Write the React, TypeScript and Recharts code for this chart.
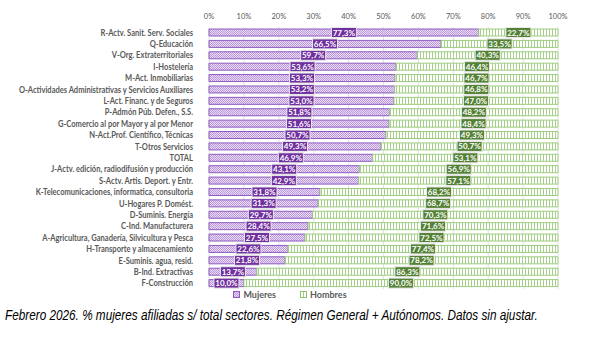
import { BarChart, Bar, XAxis, YAxis, CartesianGrid, Legend, LabelList } from "recharts";

// Afiliación por sector, febrero 2026 (% sobre total de cada sector)
const sectores = [
  "R-Actv. Sanit. Serv. Sociales",
  "Q-Educación",
  "V-Org. Extraterritoriales",
  "I-Hostelería",
  "M-Act. Inmobiliarias",
  "O-Actividades Administrativas y Servicios Auxiliares",
  "L-Act. Financ. y de Seguros",
  "P-Admón Púb. Defen., S.S.",
  "G-Comercio al por Mayor y al por Menor",
  "N-Act.Prof. Científico, Técnicas",
  "T-Otros Servicios",
  "TOTAL",
  "J-Actv. edición, radiodifusión y producción",
  "S-Actv. Artis. Deport. y Entr.",
  "K-Telecomunicaciones, informatica, consultoria",
  "U-Hogares P. Domést.",
  "D-Suminis. Energía",
  "C-Ind. Manufacturera",
  "A-Agricultura, Ganadería, Silvicultura y Pesca",
  "H-Transporte y almacenamiento",
  "E-Suminis. agua, resid.",
  "B-Ind. Extractivas",
  "F-Construcción",
];

const mujeres = [
  77.3, 66.5, 59.7, 53.6, 53.3, 53.2, 53.0, 51.8, 51.6, 50.7, 49.3, 46.9,
  43.1, 42.9, 31.8, 31.3, 29.7, 28.4, 27.5, 22.6, 21.8, 13.7, 10.0,
];

const hombres = [
  22.7, 33.5, 40.3, 46.4, 46.7, 46.8, 47.0, 48.2, 48.4, 49.3, 50.7, 53.1,
  56.9, 57.1, 68.2, 68.7, 70.3, 71.6, 72.5, 77.4, 78.2, 86.3, 90.0,
];

const ticks = [0, 10, 20, 30, 40, 50, 60, 70, 80, 90, 100];

const data = sectores.map((name, i) => ({ name, mujeres: mujeres[i], hombres: hombres[i] }));

const FONT = "Lato, 'Open Sans', sans-serif";
const PURPLE = "#7030a0";
const GREEN = "#548235";
const SQUEEZE = 0.84;

const pct = (v: number) => v.toFixed(1).replace(".", ",") + "%";

// etiqueta de categoría estrechada (imita Calibri)
function SectorTick(props: any) {
  const { x, y, payload } = props;
  return (
    <g transform={`translate(${x - 8},${y}) scale(${SQUEEZE},1)`}>
      <text x={0} y={0} dy={3} textAnchor="end" fontSize={9} fontWeight="bold" fill="#595959" fontFamily={FONT}>
        {payload.value}
      </text>
    </g>
  );
}

function pill(fill: string) {
  return (props: any) => {
    const { x, y, width, height, value } = props;
    const cx = Number(x) + Number(width) / 2;
    const cy = Number(y) + Number(height) / 2;
    const w = 25;
    const h = 10;
    return (
      <g>
        <rect x={cx - w / 2} y={cy - h / 2} width={w} height={h} fill={fill} stroke="#e8e8e8" strokeWidth={1} />
        <text
          x={cx}
          y={cy + 3}
          textAnchor="middle"
          fill="#ffffff"
          fontSize={8}
          fontWeight="bold"
          fontFamily={FONT}
        >
          {pct(value)}
        </text>
      </g>
    );
  };
}

function LegendBox() {
  const item = (label: string, fill: string, stroke: string) => (
    <span style={{ display: "inline-flex", alignItems: "center", marginRight: 24 }}>
      <svg width={7} height={7} style={{ marginRight: 3 }}>
        <rect x={0.5} y={0.5} width={6} height={6} fill={fill} stroke={stroke} />
      </svg>
      {label}
    </span>
  );
  return (
    <div
      style={{
        fontFamily: FONT,
        fontSize: 9,
        fontWeight: "bold",
        color: "#595959",
        textAlign: "center",
        paddingLeft: 46,
      }}
    >
      {item("Mujeres", "url(#pat-muj)", "#8e5cc0")}
      {item("Hombres", "url(#pat-hom)", "#8fc06e")}
    </div>
  );
}

export default function App() {
  return (
    <div style={{ position: "absolute", left: 0, top: 0, width: 596, height: 338, background: "#fff" }}>
      <BarChart
        width={596}
        height={308}
        data={data}
        layout="vertical"
        barSize={7}
        margin={{ top: 0, right: 38, left: 0, bottom: 3 }}
      >
        <defs>
          <pattern id="pat-muj" width={2} height={2} patternUnits="userSpaceOnUse">
            <rect width={2} height={2} fill="#e9dcf4" />
            <rect x={0} y={0} width={1} height={1} fill="#bb98dc" />
            <rect x={1} y={1} width={1} height={1} fill="#bb98dc" />
          </pattern>
          <pattern id="pat-hom" width={3} height={3} patternUnits="userSpaceOnUse">
            <rect width={3} height={3} fill="#ffffff" />
            <rect x={0} y={0} width={1} height={3} fill="#a6d08a" />
          </pattern>
        </defs>
        <CartesianGrid horizontal={false} stroke="#e3e3e3" />
        <XAxis
          type="number"
          orientation="top"
          domain={[0, 100]}
          ticks={ticks}
          tickFormatter={(v) => `${v}%`}
          height={27}
          axisLine={false}
          tickLine={false}
          interval={0}
          tick={{ fontSize: 7.5, fill: "#595959", fontFamily: FONT }}
        />
        <YAxis
          type="category"
          dataKey="name"
          width={209}
          axisLine={false}
          tickLine={false}
          interval={0}
          tick={<SectorTick />}
        />
        <Legend verticalAlign="bottom" height={16} content={() => <LegendBox />} />
        <Bar
          dataKey="mujeres"
          name="Mujeres"
          stackId="a"
          fill="url(#pat-muj)"
          stroke="#8e5cc0"
          strokeWidth={1}
          isAnimationActive={false}
        >
          <LabelList dataKey="mujeres" content={pill(PURPLE)} />
        </Bar>
        <Bar
          dataKey="hombres"
          name="Hombres"
          stackId="a"
          fill="url(#pat-hom)"
          stroke="#9dcb7f"
          strokeWidth={1}
          isAnimationActive={false}
        >
          <LabelList dataKey="hombres" content={pill(GREEN)} />
        </Bar>
      </BarChart>
      <div
        style={{
          position: "absolute",
          left: 5,
          top: 307,
          fontFamily: "'Liberation Sans', Arial, sans-serif",
          fontStyle: "italic",
          fontSize: 14,
          color: "#000",
          whiteSpace: "nowrap",
          transform: "scaleX(0.84)",
          transformOrigin: "left top",
        }}
      >
        Febrero 2026. % mujeres afiliadas s/ total sectores. Régimen General + Autónomos. Datos sin ajustar.
      </div>
    </div>
  );
}
